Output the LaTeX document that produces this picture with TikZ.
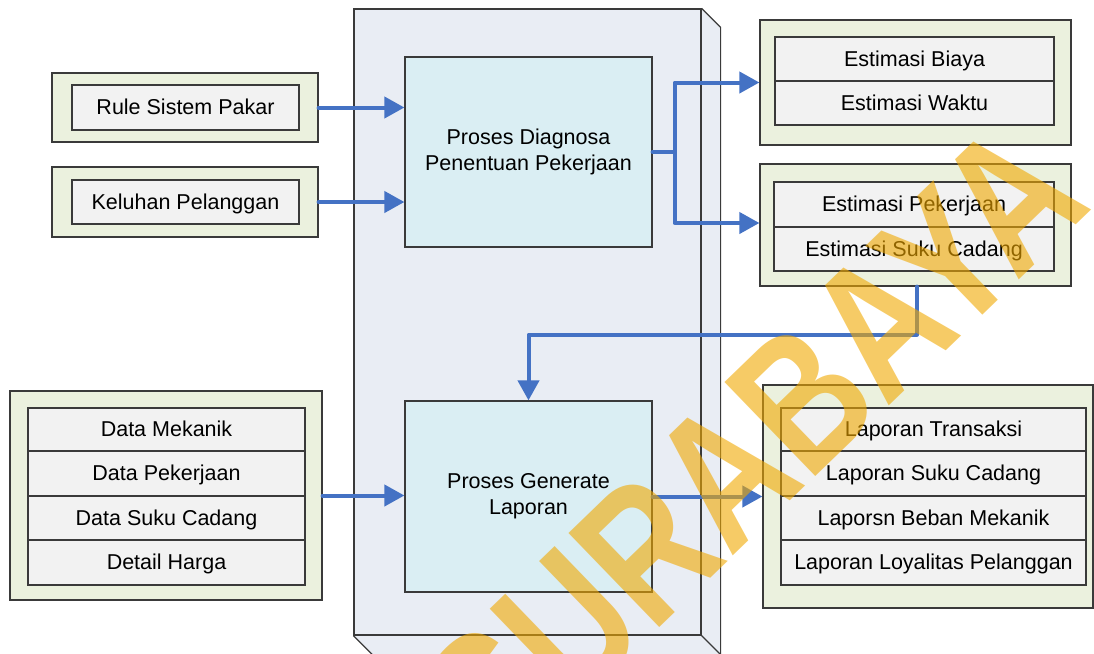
\documentclass[tikz,border=0pt]{standalone}
\usepackage{fontspec}
\setmainfont{Liberation Sans}
\usetikzlibrary{arrows.meta}
\definecolor{edge}{HTML}{3A3A3A}
\definecolor{outerfill}{HTML}{EBF1DE}
\definecolor{itemfill}{HTML}{F2F2F2}
\definecolor{procfill}{HTML}{DAEEF3}
\definecolor{cubefill}{HTML}{E9EDF4}
\definecolor{flowblue}{HTML}{4472C4}
\definecolor{wmark}{HTML}{F0A800}
\begin{document}
\begin{tikzpicture}[x=1pt,y=-1pt,
  every node/.style={font=\fontsize{21.5}{26}\selectfont, inner sep=0pt, align=center},
  outerbox/.style={draw=edge, fill=outerfill, line width=1.2pt},
  itembox/.style={draw=edge, fill=itemfill, line width=1.2pt, text height=15pt, text depth=0.1pt},
  procbox/.style={draw=edge, fill=procfill, line width=1.2pt},
  cubeface/.style={draw=edge, fill=cubefill, line width=1.2pt},
  flow/.style={draw=flowblue, line width=4pt, line cap=round, line join=round,
    -{Triangle[length=20pt,width=21pt]}},
  flowline/.style={draw=flowblue, line width=4pt, line cap=round, line join=round},
]
\path[use as bounding box, clip] (0,0) rectangle (1094,653);

% the processing block drawn as a box with depth
\node[cubeface, minimum width=347pt, minimum height=626pt] (cube) at (527.5,322) {};
\path[fill=cubefill] (cube.north east) -- ++(19,19) -- ++(0,640) -- ([xshift=19pt,yshift=-19pt]cube.south west) -- (cube.south west) -- cycle;
\draw[edge, line width=1.2pt] (cube.north east) -- ++(19,19) -- ++(0,640);
\draw[edge, line width=1.2pt] (cube.south west) -- ++(19,19);
\draw[edge, line width=1.2pt] (cube.south east) -- ++(19,19);
\node[cubeface, fill=none, minimum width=347pt, minimum height=626pt] at (cube.center) {};

% processes
\node[procbox, minimum width=247pt, minimum height=190pt] (diag) at (528.5,152) {Proses Diagnosa\\Penentuan Pekerjaan};
\node[procbox, minimum width=247pt, minimum height=191pt] (gen) at (528.5,496.5) {Proses Generate\\Laporan};

% inputs
\node[outerbox, minimum width=266pt, minimum height=69pt] (rsOuter) at (185,107.5) {};
\node[itembox, minimum width=227pt, minimum height=45pt] (rs) at (185.5,107.5) {Rule Sistem Pakar};
\node[outerbox, minimum width=266pt, minimum height=70pt] (klOuter) at (185,202) {};
\node[itembox, minimum width=227pt, minimum height=44pt] (kl) at (185.5,202) {Keluhan Pelanggan};

\node[outerbox, minimum width=312pt, minimum height=209pt] (dataOuter) at (166,495.5) {};
\node[itembox, minimum width=277pt, minimum height=43pt] (d1) at (166.5,429.5) {Data Mekanik};
\node[itembox, minimum width=277pt, minimum height=45pt] (d2) at (166.5,473.5) {Data Pekerjaan};
\node[itembox, minimum width=277pt, minimum height=44pt] (d3) at (166.5,518) {Data Suku Cadang};
\node[itembox, minimum width=277pt, minimum height=45pt] (d4) at (166.5,562.5) {Detail Harga};

% outputs
\node[outerbox, minimum width=311pt, minimum height=125pt] (e1Outer) at (915.5,82.5) {};
\node[itembox, minimum width=279pt, minimum height=44pt] (e11) at (914.5,59) {Estimasi Biaya};
\node[itembox, minimum width=279pt, minimum height=44pt] (e12) at (914.5,103) {Estimasi Waktu};

\node[outerbox, minimum width=311pt, minimum height=122pt] (e2Outer) at (915.5,225) {};
\node[itembox, minimum width=280pt, minimum height=45pt] (e21) at (914,204.5) {Estimasi Pekerjaan};
\node[itembox, minimum width=280pt, minimum height=44pt] (e22) at (914,249) {Estimasi Suku Cadang};

\node[outerbox, minimum width=330pt, minimum height=223pt] (lapOuter) at (928,496.5) {};
\node[itembox, minimum width=305pt, minimum height=43pt] (l1) at (933.5,429.5) {Laporan Transaksi};
\node[itembox, minimum width=305pt, minimum height=45pt] (l2) at (933.5,473.5) {Laporan Suku Cadang};
\node[itembox, minimum width=305pt, minimum height=44pt] (l3) at (933.5,518) {Laporsn Beban Mekanik};
\node[itembox, minimum width=305pt, minimum height=45pt] (l4) at (933.5,562.5) {Laporan Loyalitas Pelanggan};

% data flows
\draw[flow] (rsOuter.east) -- (rsOuter.east -| diag.west);
\draw[flow] (klOuter.east) -- (klOuter.east -| diag.west);
\draw[flow] (dataOuter.east) -- (dataOuter.east -| gen.west);
\draw[flow] (gen.east) -- (gen.east -| lapOuter.west);
\draw[flowline] (diag.east) -- ++(22,0);
\draw[flow] ([xshift=22pt]diag.east) |- ([yshift=0pt]e1Outer.west);
\draw[flow] ([xshift=22pt]diag.east) |- ([yshift=2pt]e2Outer.west);
\draw[flow] ([xshift=1.5pt]e2Outer.south) -- ++(0,48) -| (gen.north);

% watermark
\begin{scope}[shift={(753,446)}, rotate=44, xscale=0.79, transform shape]
  \node[text=wmark, opacity=0.6, font=\fontsize{190}{190}\selectfont\bfseries] (wm) at (0,0) {SURABAYA};
\end{scope}
\end{tikzpicture}
\end{document}
